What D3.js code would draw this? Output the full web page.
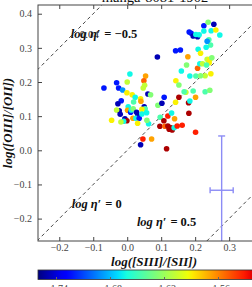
<!DOCTYPE html>
<html><head><meta charset="utf-8">
<script src="https://d3js.org/d3.v7.min.js"></script>
<style>html,body{margin:0;padding:0;background:#fff;overflow:hidden}</style>
</head><body>
<svg id="c" width="252" height="287"></svg>
<script>
const title = "manga-8081-1902";
const xTicks = [-0.2,-0.1,0.0,0.1,0.2,0.3];
const yTicks = [-0.2,-0.1,0.0,0.1,0.2,0.3,0.4];
const cbTicks = [-1.74,-1.68,-1.62,-1.56];
const etaOffsets = [0.5, 0, -0.5];
const etaLabels = ["log η′ = −0.5","log η′ = 0","log η′ = 0.5"];
const etaLabelX = [-0.166,-0.1635,0.0285];
const etaLabelY = [0.329,-0.169,-0.223];
const errX = [0.278], errY = [-0.117], errXe = [0.034], errYe = [0.159];
const xs = [-0.0685,-0.0312,-0.0253,-0.0135,-0.0009,0.0079,0.0,0.0541,0.0491,0.0512,
0.0471,0.0147,0.0235,0.0394,0.0403,0.0609,0.0688,0.0188,-0.0176,-0.0274,
0.0029,0.05,0.0529,-0.0235,-0.0312,-0.0206,0.0012,0.01,0.0118,0.0176,
0.0276,0.0315,0.0432,0.0571,0.0168,0.0256,0.0353,0.0432,-0.0068,-0.0009,
-0.0106,-0.0185,-0.0459,0.0306,0.0629,0.0579,0.0903,0.1021,0.1088,0.0971,
0.1079,0.0962,0.1109,0.1197,0.1285,0.1235,0.1324,0.1382,0.1471,0.1618,
0.1197,0.1306,0.1394,0.1521,0.1424,0.1726,0.1806,0.0462,0.0718,0.0394,
0.1159,0.2012,0.1815,0.2012,0.1844,0.1432,0.1521,0.1676,0.1594,0.1747,
0.1785,0.1844,0.2021,0.1941,0.0888,0.1424,0.1565,0.1824,0.1882,0.1941,
0.2071,0.2021,0.2118,0.2256,0.2382,0.255,0.2256,0.2471,0.2609,0.2726,
0.2403,0.2453,0.2353,0.2324,0.2088,0.2159,0.2071,0.2138,0.2218,0.2353,
0.2432,0.2491,0.2412,0.2335,0.2462,0.2294,0.2159,0.2294,0.2432];
const ys = [0.1824,0.198,0.1824,0.1766,0.1687,0.2234,0.2,0.2176,0.2038,0.1903,
0.1824,0.1628,0.1552,0.1511,0.1435,0.1649,0.1628,0.1414,0.1452,0.1365,
0.1277,0.1277,0.1218,0.116,0.118,0.1054,0.1171,0.1113,0.118,0.1218,
0.1113,0.1004,0.12,0.1101,0.0937,0.0937,0.0937,0.1063,0.0925,0.0867,
0.0849,0.0829,0.0878,0.0791,0.0779,0.0878,0.1318,0.1376,0.1552,0.0966,
0.0867,0.0703,0.0703,0.0712,0.0662,0.0615,0.0594,0.0662,0.0712,0.0732,
0.1004,0.1092,0.0925,0.1552,0.1406,0.1698,0.1394,0.0331,0.0331,0.0164,
0.0047,0.0527,0.1083,0.1552,0.1444,0.2038,0.1912,0.1716,0.2322,0.2498,
0.2741,0.2176,0.2176,0.1736,0.2732,0.2917,0.2937,0.3464,0.3426,0.3347,
0.3327,0.3391,0.3385,0.3649,0.3748,0.369,0.3493,0.3502,0.3523,0.3376,
0.3239,0.3083,0.3192,0.3016,0.2958,0.284,0.2401,0.2536,0.2536,0.2665,
0.2665,0.2712,0.2565,0.2498,0.2243,0.2184,0.2184,0.1716,0.1757];
const cs = [-1.722,-1.722,-1.722,-1.69,-1.59,-1.664,-1.608,-1.568,-1.55,-1.608,
-1.608,-1.59,-1.664,-1.59,-1.568,-1.748,-1.628,-1.645,-1.722,-1.748,
-1.664,-1.748,-1.645,-1.748,-1.608,-1.748,-1.568,-1.722,-1.664,-1.628,
-1.748,-1.748,-1.59,-1.664,-1.568,-1.664,-1.722,-1.664,-1.748,-1.51,
-1.664,-1.608,-1.59,-1.59,-1.664,-1.628,-1.628,-1.748,-1.722,-1.645,
-1.51,-1.51,-1.55,-1.51,-1.51,-1.51,-1.51,-1.664,-1.532,-1.532,
-1.532,-1.664,-1.568,-1.51,-1.59,-1.608,-1.51,-1.532,-1.568,-1.748,
-1.51,-1.532,-1.51,-1.568,-1.664,-1.59,-1.628,-1.645,-1.664,-1.628,
-1.568,-1.664,-1.645,-1.645,-1.748,-1.722,-1.722,-1.722,-1.722,-1.748,
-1.748,-1.664,-1.664,-1.722,-1.628,-1.748,-1.664,-1.664,-1.59,-1.664,
-1.645,-1.645,-1.69,-1.664,-1.664,-1.59,-1.55,-1.664,-1.608,-1.608,
-1.59,-1.628,-1.59,-1.645,-1.59,-1.608,-1.628,-1.645,-1.628];
const cDomain = [-1.76, -1.50];

function seg(pts, t){
  for (let i=1;i<pts.length;i++){
    if (t<=pts[i][0]){const a=pts[i-1],b=pts[i];return a[1]+(b[1]-a[1])*(t-a[0])/(b[0]-a[0]);}
  }
  return pts[pts.length-1][1];
}
function jet(t){
  t=Math.max(0,Math.min(1,t));
  const r=seg([[0,0],[0.35,0],[0.66,1],[0.89,1],[1,0.5]],t);
  const g=seg([[0,0],[0.125,0],[0.375,1],[0.64,1],[0.91,0],[1,0]],t);
  const b=seg([[0,0.5],[0.11,1],[0.34,1],[0.65,0],[1,0]],t);
  return d3.rgb(r*255,g*255,b*255).toString();
}

const svg = d3.select("#c");
const L=38, R=272, T=5, B=241;
const x = d3.scaleLinear().domain([-0.2626,0.4262]).range([L,R]);
const y = d3.scaleLinear().domain([-0.2656,0.4255]).range([B,T]);
const cn = d3.scaleLinear().domain(cDomain).range([0,1]);
const font = "'Liberation Serif','DejaVu Serif',serif";

svg.append("defs").append("clipPath").attr("id","clip")
  .append("rect").attr("x",L).attr("y",T).attr("width",R-L).attr("height",B-T);

const plot = svg.append("g").attr("clip-path","url(#clip)");

etaOffsets.forEach(c=>{
  plot.append("line")
    .attr("x1",x(-0.4)).attr("y1",y(-0.4+c))
    .attr("x2",x(0.6)).attr("y2",y(0.6+c))
    .attr("stroke","#333").attr("stroke-width",0.9).attr("stroke-dasharray","3.5,3");
});

plot.selectAll("circle.pt").data(d3.range(xs.length)).enter().append("circle")
  .attr("cx",i=>x(xs[i])).attr("cy",i=>y(ys[i])).attr("r",2.8)
  .attr("fill",i=>jet(cn(cs[i])));

const ec="#8c8cf5";
errX.forEach((ex,i)=>{
  const g=plot.append("g").attr("stroke",ec).attr("stroke-width",1.4);
  g.append("line").attr("x1",x(ex)).attr("x2",x(ex)).attr("y1",y(errY[i]-errYe[i])).attr("y2",y(errY[i]+errYe[i]));
  g.append("line").attr("x1",x(ex-errXe[i])).attr("x2",x(ex+errXe[i])).attr("y1",y(errY[i])).attr("y2",y(errY[i]));
  g.append("line").attr("x1",x(ex)-3.5).attr("x2",x(ex)+3.5).attr("y1",y(errY[i]+errYe[i])).attr("y2",y(errY[i]+errYe[i]));
  g.append("line").attr("x1",x(ex-errXe[i])).attr("x2",x(ex-errXe[i])).attr("y1",y(errY[i])-3).attr("y2",y(errY[i])+3);
  g.append("line").attr("x1",x(ex+errXe[i])).attr("x2",x(ex+errXe[i])).attr("y1",y(errY[i])-3).attr("y2",y(errY[i])+3);
});

etaLabels.forEach((t,i)=>{
  const parts=t.split(" = ");
  const tx=plot.append("text").attr("x",x(etaLabelX[i])).attr("y",y(etaLabelY[i]))
    .attr("font-family",font).attr("font-size",12.5).attr("font-weight","bold").attr("fill","#111");
  tx.append("tspan").attr("font-style","italic").text(parts[0]);
  tx.append("tspan").attr("dx",4).text("= "+parts[1]);
});
plot.append("text").attr("x",x(etaLabelX[0])+9).attr("y",y(etaLabelY[0]))
  .attr("font-family",font).attr("font-size",11).attr("fill","#222").text("0.04");

svg.append("rect").attr("x",L).attr("y",T).attr("width",R-L).attr("height",B-T)
  .attr("fill","none").attr("stroke","#444").attr("stroke-width",1);

const ax = svg.append("g").attr("transform",`translate(0,${B})`)
  .call(d3.axisBottom(x).tickValues(xTicks).tickSize(-4).tickPadding(3).tickFormat(d3.format(".1f")));
const axTop = svg.append("g").attr("transform",`translate(0,${T})`)
  .call(d3.axisTop(x).tickValues(xTicks).tickSize(-4).tickFormat(""));
const ay = svg.append("g").attr("transform",`translate(${L},0)`)
  .call(d3.axisLeft(y).tickValues(yTicks).tickSize(-4).tickPadding(6).tickFormat(d3.format(".1f")));
[ax,axTop,ay].forEach(g=>{
  g.select(".domain").remove();
  g.selectAll("line").attr("stroke","#444");
  g.selectAll("text").attr("font-family",font).attr("font-size",10).attr("fill","#444");
});

svg.append("text").attr("x",(L+R)/2).attr("y",2).attr("text-anchor","middle")
  .attr("font-family",font).attr("font-size",14.5).attr("fill","#111").text(title);

svg.append("text").attr("x",(L+R)/2-1).attr("y",266).attr("text-anchor","middle")
  .attr("font-family",font).attr("font-size",13).attr("font-weight","bold").attr("font-style","italic")
  .attr("fill","#111").text("log([SIII]/[SII])");
svg.append("text").attr("transform",`translate(12,${(T+B)/2}) rotate(-90)`).attr("text-anchor","middle")
  .attr("font-family",font).attr("font-size",13).attr("font-weight","bold").attr("font-style","italic")
  .attr("fill","#111").text("log([OIII]/[OII])");

const cbY=270, cbH=9.5;
const cx = d3.scaleLinear().domain(cDomain).range([L,R]);
const grad = svg.select("defs").append("linearGradient").attr("id","jet");
d3.range(0,1.0001,0.02).forEach(t=>grad.append("stop").attr("offset",t).attr("stop-color",jet(t)));
svg.append("rect").attr("x",L).attr("y",cbY).attr("width",R-L).attr("height",cbH)
  .attr("fill","url(#jet)").attr("stroke","#333").attr("stroke-width",0.8);
const cax = svg.append("g").attr("transform",`translate(0,${cbY+cbH})`)
  .call(d3.axisBottom(cx).tickValues(cbTicks).tickSize(-2.5).tickPadding(5).tickFormat(d3.format(".2f")));
cax.select(".domain").remove();
cax.selectAll("line").attr("stroke","#666");
cax.selectAll("text").attr("font-family",font).attr("font-size",10).attr("fill","#444");
</script>
</body></html>
